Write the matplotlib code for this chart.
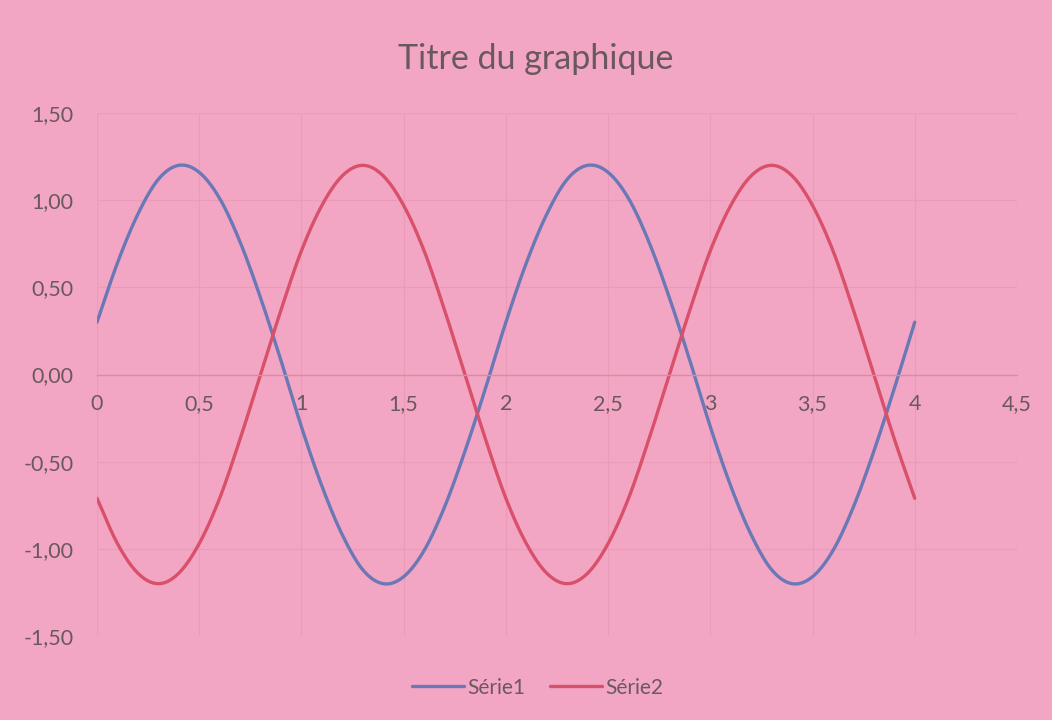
import numpy as np
import matplotlib
matplotlib.use("Agg")
import matplotlib.pyplot as plt

plt.rcParams['font.family'] = ['Lato', 'DejaVu Sans']

x_vals = [0.0, 0.1, 0.2, 0.3, 0.4, 0.5, 0.6, 0.7, 0.8, 0.9,
          1.0, 1.1, 1.2, 1.3, 1.4, 1.5, 1.6, 1.7, 1.8, 1.9,
          2.0, 2.1, 2.2, 2.3, 2.4, 2.5, 2.6, 2.7, 2.8, 2.9,
          3.0, 3.1, 3.2, 3.3, 3.4, 3.5, 3.6, 3.7, 3.8, 3.9, 4.0]
serie1 = [0.30, 0.64, 0.92, 1.12, 1.20, 1.16, 1.01, 0.76, 0.44, 0.08,
          -0.30, -0.64, -0.92, -1.12, -1.20, -1.16, -1.01, -0.76, -0.44, -0.08,
          0.30, 0.64, 0.92, 1.12, 1.20, 1.16, 1.01, 0.76, 0.44, 0.08,
          -0.30, -0.64, -0.92, -1.12, -1.20, -1.16, -1.01, -0.76, -0.44, -0.08, 0.30]
serie2 = [-0.71, -0.97, -1.14, -1.20, -1.14, -0.97, -0.71, -0.37, 0.00, 0.37,
          0.71, 0.97, 1.14, 1.20, 1.14, 0.97, 0.71, 0.37, 0.00, -0.37,
          -0.71, -0.97, -1.14, -1.20, -1.14, -0.97, -0.71, -0.37, 0.00, 0.37,
          0.71, 0.97, 1.14, 1.20, 1.14, 0.97, 0.71, 0.37, 0.00, -0.37, -0.71]
series_names = ["Série1", "Série2"]
x_ticks = [0, 0.5, 1, 1.5, 2, 2.5, 3, 3.5, 4, 4.5]
y_ticks = [-1.5, -1.0, -0.5, 0.0, 0.5, 1.0, 1.5]
title = "Titre du graphique"


def smooth(xs, ys, n=12):
    """Catmull-Rom style smoothing for display (like Excel smoothed lines)."""
    xs = np.asarray(xs, float)
    ys = np.asarray(ys, float)
    px = np.concatenate([[2 * xs[0] - xs[1]], xs, [2 * xs[-1] - xs[-2]]])
    py = np.concatenate([[2 * ys[0] - ys[1]], ys, [2 * ys[-1] - ys[-2]]])
    outx, outy = [], []
    t = np.linspace(0, 1, n, endpoint=False)
    for i in range(1, len(px) - 2):
        p0, p1, p2, p3 = (np.array([px[j], py[j]]) for j in (i - 1, i, i + 1, i + 2))
        tt = t[:, None]
        pts = 0.5 * ((2 * p1) + (-p0 + p2) * tt + (2 * p0 - 5 * p1 + 4 * p2 - p3) * tt ** 2
                     + (-p0 + 3 * p1 - 3 * p2 + p3) * tt ** 3)
        outx.extend(pts[:, 0]); outy.extend(pts[:, 1])
    outx.append(xs[-1]); outy.append(ys[-1])
    return np.array(outx), np.array(outy)


bg = '#f3a6c4'
text_c = '#6a585f'
grid_c = '#eb9bb7'

fig = plt.figure(figsize=(10.52, 7.2), dpi=100, facecolor=bg)
ax = fig.add_axes([0.0922, 0.1167, 0.8745, 0.7263], facecolor=bg)

c1 = '#6b78b6'
c2 = '#d9506a'
sx, sy = smooth(x_vals, serie1)
ax.plot(sx, sy, color=c1, lw=2.4, label=series_names[0], solid_capstyle='round')
sx, sy = smooth(x_vals, serie2)
ax.plot(sx, sy, color=c2, lw=2.4, label=series_names[1], solid_capstyle='round')

ax.set_xlim(0, 4.5)
ax.set_ylim(-1.5, 1.5)
ax.set_xticks(x_ticks)
ax.set_yticks(y_ticks)
ax.set_xticklabels([("%g" % v).replace('.', ',') for v in x_ticks])
ax.set_yticklabels([("%.2f" % v).replace('.', ',') for v in y_ticks])

for s in ['top', 'right', 'left']:
    ax.spines[s].set_visible(False)
ax.spines['bottom'].set_position(('data', 0))
ax.spines['bottom'].set_color('#d48ea3')
ax.spines['bottom'].set_linewidth(1.0)

ax.grid(True, color=grid_c, lw=0.8)
ax.set_axisbelow(True)
ax.tick_params(axis='both', length=0, colors=text_c, labelsize=15.5)
ax.tick_params(axis='x', pad=14)
ax.tick_params(axis='y', pad=17)

fig.text(0.5095, 0.918, title, ha='center', va='center', fontsize=24.5, color=text_c)

leg = fig.legend(loc='center', bbox_to_anchor=(0.511, 0.045), ncol=2, frameon=False,
                 fontsize=15, handlelength=2.5, handletextpad=0.15, columnspacing=1.2)
for t in leg.get_texts():
    t.set_color(text_c)

fig.savefig('out.png', dpi=100, facecolor=bg)
